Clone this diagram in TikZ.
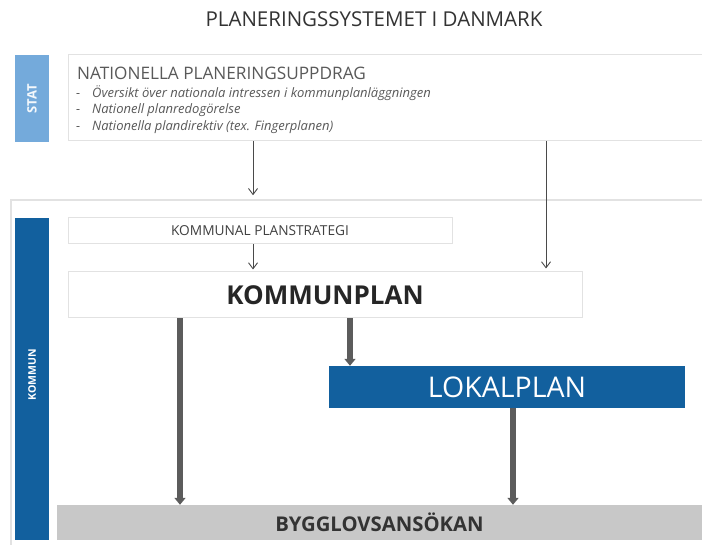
\documentclass[tikz,border=0pt]{standalone}
\usepackage{fontspec}
\setmainfont{Open Sans}
\usetikzlibrary{arrows.meta, positioning, calc}
\definecolor{statblue}{HTML}{74AADB}
\definecolor{kommunblue}{HTML}{12609E}
\definecolor{byggray}{HTML}{C8C8C8}
\definecolor{boxline}{HTML}{E2E2E2}
\definecolor{txtgray}{HTML}{595959}
\definecolor{arrgray}{HTML}{4A4A4A}
\newcommand{\fsz}[1]{\fontsize{#1pt}{#1pt}\selectfont}

\begin{document}
\begin{tikzpicture}[x=1pt, y=-1pt,
  planbox/.style={rectangle, draw=boxline, line width=1pt, fill=white,
                  inner sep=0pt},
  sidebar/.style={rectangle, inner sep=0pt, minimum width=34pt},
  bartext/.style={rotate=90, text=white, inner sep=0pt},
  bullet/.style={anchor=west, inner sep=0pt, text=txtgray,
                 font=\fsz{13}\itshape},
  thinarr/.style={-{Straight Barb[length=6pt, width=9pt]},
                  line width=0.9pt, draw=arrgray},
  thickarr/.style={-{Triangle[length=7pt, width=11pt]},
                   line width=6.5pt, draw=arrgray!90}
]

\useasboundingbox (0,0) rectangle (702,545);

% === Title ===
\node[font=\fsz{20.5}, text=black!80, inner sep=0pt] (title) at (374, 19)
  {PLANERINGSSYSTEMET I DANMARK};

% === STAT level ===
\node[sidebar, fill=statblue, minimum height=87pt] (stat) at (32, 98.5) {};
\node[bartext, font=\fsz{13}\bfseries, text=white!92!statblue] (stattxt)
  at (stat) {STAT};

% national box runs off the right edge
\node[planbox, minimum width=652pt, minimum height=86pt] (nat) at (394, 98) {};
\node[anchor=west, inner sep=0pt, text=txtgray, font=\fsz{17.2}]
  (nattitle) at (77, 73) {NATIONELLA PLANERINGSUPPDRAG};
\node[bullet] (b1) at (76, 93)
  {\makebox[16pt][l]{-}Översikt över nationala intressen i kommunplanläggningen};
\node[bullet] (b2) at (76, 110)
  {\makebox[16pt][l]{-}Nationell planredogörelse};
\node[bullet] (b3) at (76, 127)
  {\makebox[16pt][l]{-}Nationella plandirektiv (tex. Fingerplanen)};

% === KOMMUN level ===
% frame of the kommun part (open to the right and bottom)
\node[rectangle, draw=boxline, line width=1.5pt, inner sep=0pt,
      minimum width=709pt, minimum height=360pt] (kframe) at (365.5, 380) {};
\node[sidebar, fill=kommunblue, minimum height=322pt] (kommun) at (32, 379) {};
\node[bartext, font=\fsz{10.5}\bfseries] (kommuntxt) at (32, 375) {KOMMUN};

\node[planbox, minimum width=384pt, minimum height=26pt,
      font=\fsz{13.7}, text=black!75] (strat) at (260, 231)
  {KOMMUNAL PLANSTRATEGI};
\node[planbox, minimum width=514pt, minimum height=46pt,
      font=\fsz{26}\bfseries, text=black!85] (kplan) at (325, 295)
  {KOMMUNPLAN};
\node[rectangle, fill=kommunblue, inner sep=0pt, minimum width=356pt,
      minimum height=42pt, font=\fsz{28.5}, text=white] (lplan) at (507, 387)
  {LOKALPLAN};
\node[rectangle, fill=byggray, inner sep=0pt, minimum width=645pt,
      minimum height=35pt, font=\fsz{20.3}\bfseries, text=black!80]
  (bygg) at (379.5, 522.5) {BYGGLOVSANSÖKAN};

% === Arrows ===
\coordinate (xa) at (253, 0);
\coordinate (xb) at (546, 0);
\coordinate (xc) at (180, 0);
\coordinate (xd) at (350, 0);
\coordinate (xe) at (513, 0);

\draw[thinarr, shorten >=4pt] (xa |- nat.south) -- (xa |- kframe.north);
\draw[thinarr, shorten >=3pt] (xb |- nat.south) -- (xb |- kplan.north);
\draw[thinarr, shorten >=2pt] (xa |- strat.south) -- (xa |- kplan.north);

\draw[thickarr] (xc |- kplan.south) -- (xc |- bygg.north);
\draw[thickarr] (xd |- kplan.south) -- (xd |- lplan.north);
\draw[thickarr] (xe |- lplan.south) -- (xe |- bygg.north);

\end{tikzpicture}
\end{document}
